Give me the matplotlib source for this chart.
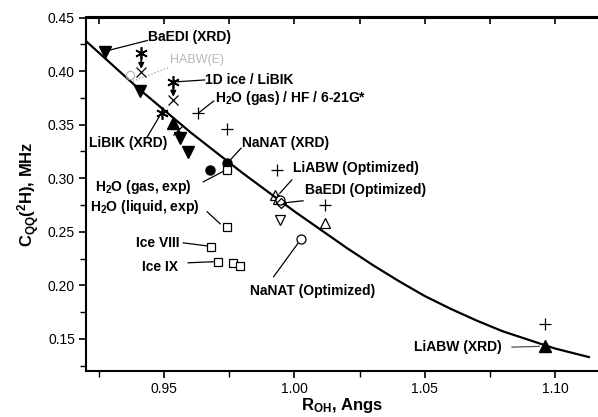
import matplotlib
matplotlib.use("Agg")
import matplotlib.pyplot as plt

plt.rcParams['font.family'] = ['Liberation Sans', 'DejaVu Sans']
plt.rcParams['mathtext.fontset'] = 'custom'
plt.rcParams['mathtext.rm'] = 'Liberation Sans'
plt.rcParams['mathtext.bf'] = 'Liberation Sans:bold'
plt.rcParams['mathtext.default'] = 'bf'

# fitted curve
curve_x = [0.920, 0.940, 0.960, 0.980, 1.000, 1.020, 1.030, 1.040, 1.050, 1.060,
           1.070, 1.080, 1.090, 1.100, 1.113]
curve_y = [0.428, 0.384, 0.343, 0.305, 0.269, 0.235, 0.219, 0.204, 0.190, 0.178,
           0.167, 0.157, 0.149, 0.141, 0.133]

# symbols
down_fill_x = [0.9274, 0.9408, 0.9560, 0.9590]
down_fill_y = [0.4178, 0.3815, 0.3375, 0.3245]
up_fill_x = [0.9535, 1.0960]
up_fill_y = [0.3515, 0.1438]
star_x = [0.9412, 0.9535, 0.9493]
star_y = [0.4170, 0.3900, 0.3610]
cross_x = [0.9412, 0.9535, 0.9555]
cross_y = [0.3990, 0.3730, 0.3450]
plus_x = [0.9630, 0.9740, 0.9933, 1.0117, 1.0960]
plus_y = [0.3610, 0.3460, 0.3078, 0.2750, 0.1640]
dot_x = [0.9676, 0.9740]
dot_y = [0.3078, 0.3140]
square_x = [0.9740, 0.9740, 0.9680, 0.9707, 0.9765, 0.9790]
square_y = [0.3078, 0.2546, 0.2360, 0.2220, 0.2210, 0.2180]
up_open_x = [0.9925, 0.9935, 1.0117]
up_open_y = [0.2844, 0.2810, 0.2585]
circle_open_x = [0.9944, 1.0025]
circle_open_y = [0.2795, 0.2435]
diamond_open_x = [0.9950]
diamond_open_y = [0.2770]
down_open_x = [0.9944]
down_open_y = [0.2611]
habw_x = [0.9370]
habw_y = [0.3960]

fig = plt.figure(figsize=(5.98, 4.17), dpi=100)
ax = fig.add_axes([86 / 598, 46 / 417, 512 / 598, 353.5 / 417])

ax.plot(curve_x, curve_y, color='black', lw=1.6, zorder=2)

mk = dict(linestyle='none', zorder=3)
ax.plot(down_fill_x, down_fill_y, marker='v', ms=8, color='black', **mk)
ax.plot(up_fill_x, up_fill_y, marker='^', ms=8, color='black', **mk)
ax.plot(star_x, star_y, marker=(6, 2, 0), ms=9, color='black', mew=1.2, **mk)
ax.plot(cross_x, cross_y, marker='x', ms=7, color='black', mew=0.9, **mk)
ax.plot(plus_x, plus_y, marker='+', ms=8, color='black', mew=0.9, **mk)
ax.plot(dot_x, dot_y, marker='o', ms=6.5, color='black', **mk)
ax.plot(square_x, square_y, marker='s', ms=6, mfc='white', mec='black', mew=0.9, **mk)
ax.plot(up_open_x, up_open_y, marker='^', ms=7, mfc='none', mec='black', mew=0.9, **mk)
ax.plot(circle_open_x, circle_open_y, marker='o', ms=6.5, mfc='white', mec='black', mew=0.9, **mk)
ax.plot(diamond_open_x, diamond_open_y, marker='D', ms=5, mfc='none', mec='black', mew=0.9, **mk)
ax.plot(down_open_x, down_open_y, marker='v', ms=7, mfc='white', mec='black', mew=0.9, **mk)
ax.plot(habw_x, habw_y, marker='o', ms=6, mfc='none', mec='#b0b0b0', mew=0.8, **mk)

# arrows from asterisks down to crosses
for sx, sy, cy in zip(star_x[:2], star_y[:2], cross_y[:2]):
    ax.annotate('', xy=(sx, cy + 0.003), xytext=(sx, sy - 0.003),
                arrowprops=dict(arrowstyle='-|>', color='black', lw=1.2,
                                mutation_scale=8, shrinkA=0, shrinkB=0))


def leader(x0, y0, x1, y1, **kw):
    ax.plot([x0, x1], [y0, y1], color=kw.get('color', 'black'),
            lw=kw.get('lw', 0.9), ls=kw.get('ls', '-'), zorder=2)


lab = dict(fontsize=10, fontweight='bold', va='center')
ax.text(0.9439, 0.432, 'BaEDI (XRD)', **lab)
leader(0.9435, 0.4285, 0.9290, 0.4195)
ax.text(0.9523, 0.410, 'HABW(E)', fontsize=9, color='#b8b8b8', va='center')
leader(0.9380, 0.3905, 0.9520, 0.4035, color='#a0a0a0', ls=':')
ax.text(0.9657, 0.3917, '1D ice / LiBIK', **lab)
leader(0.9655, 0.3917, 0.9550, 0.3900)
ax.text(0.9695, 0.375, 'H$_2$O (gas) / HF / 6-21G*', **lab)
leader(0.9690, 0.3720, 0.9635, 0.3615)
ax.text(0.9210, 0.333, 'LiBIK (XRD)', **lab)
leader(0.9435, 0.3386, 0.9485, 0.3590)
ax.text(0.9800, 0.333, 'NaNAT (XRD)', **lab)
leader(0.9795, 0.3280, 0.9750, 0.3160)
ax.text(0.9236, 0.292, 'H$_2$O (gas, exp)', **lab)
leader(0.9650, 0.2966, 0.9728, 0.3065)
ax.text(0.9217, 0.273, 'H$_2$O (liquid, exp)', **lab)
leader(0.9665, 0.2686, 0.9715, 0.2574)
ax.text(0.9393, 0.2396, 'Ice VIII', **lab)
leader(0.9573, 0.2396, 0.9665, 0.2368)
ax.text(0.9416, 0.2173, 'Ice IX', **lab)
leader(0.9592, 0.2210, 0.9688, 0.2220)
ax.text(0.9994, 0.3096, 'LiABW (Optimized)', **lab)
leader(0.9990, 0.2984, 0.9944, 0.2860)
ax.text(1.0040, 0.289, 'BaEDI (Optimized)', **lab)
leader(1.0033, 0.2789, 0.9960, 0.2770)
ax.text(1.0070, 0.195, 'NaNAT (Optimized)', ha='center', **lab)
leader(1.0013, 0.2390, 0.9920, 0.2080)
ax.text(1.0459, 0.1423, 'LiABW (XRD)', **lab)
leader(1.0835, 0.1423, 1.0940, 0.1430, color='#505050')

ax.set_xlim(0.920, 1.1165)
ax.set_ylim(0.120, 0.450)
ax.set_xticks([0.95, 1.00, 1.05, 1.10])
ax.set_xticks([0.925, 0.975, 1.025, 1.075], minor=True)
ax.set_yticks([0.15, 0.20, 0.25, 0.30, 0.35, 0.40, 0.45])
ax.set_yticks([0.125, 0.175, 0.225, 0.275, 0.325, 0.375, 0.425], minor=True)
ax.xaxis.set_major_formatter(matplotlib.ticker.FormatStrFormatter('%.2f'))
ax.yaxis.set_major_formatter(matplotlib.ticker.FormatStrFormatter('%.2f'))

ax.spines['right'].set_visible(False)
for s in ['left', 'bottom', 'top']:
    ax.spines[s].set_linewidth(1.5)
ax.tick_params(axis='both', which='major', direction='out', length=5, width=1.2,
               labelsize=10, pad=3)
ax.tick_params(axis='both', which='minor', direction='out', length=4, width=1.0)
# copy of the x axis on top with ticks pointing inward
top = ax.secondary_xaxis('top')
top.set_xticks([0.95, 1.00, 1.05, 1.10])
top.set_xticks([0.925, 0.975, 1.025, 1.075], minor=True)
top.tick_params(which='both', direction='in', length=5, width=1.2, labeltop=False)
top.spines['top'].set_linewidth(1.5)

ax.set_xlabel(r'R$_{OH}$, Angs', fontsize=12, fontweight='bold', labelpad=0)
ax.set_ylabel(r'C$_{QQ}$($^2$H), MHz', fontsize=12, fontweight='bold', labelpad=4)

fig.savefig('out.png', dpi=100)
